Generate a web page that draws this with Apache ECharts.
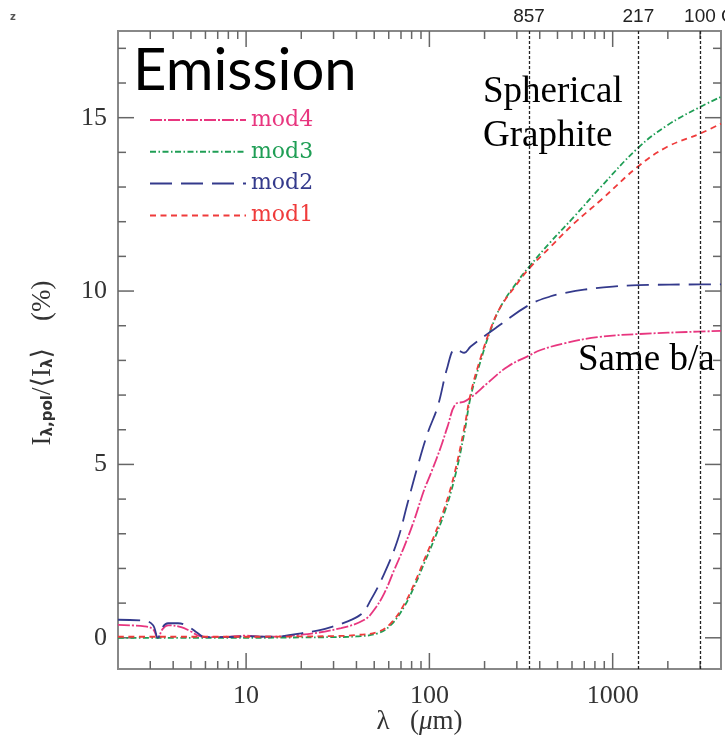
<!DOCTYPE html>
<html><head><meta charset="utf-8">
<script src="https://cdn.jsdelivr.net/npm/echarts@6/dist/echarts.min.js"></script>
<style>html,body{margin:0;padding:0;background:#fff}#c{width:725px;height:738px}</style>
</head><body><div id="c"></div>
<script>
// ---- data (wavelength in micron, polarisation fraction in %) ----
const mod4 = [[2,0.37],[2.79,0.33],[3.1,0.25],[3.3,0.0],[3.5,0.25],[3.75,0.36],[4.42,0.31],[5.0,0.18],[5.67,0.04],[7,0.02],[10,0.06],[12,0.03],[20,0.09],[33,0.28],[44.2,0.52],[50,0.81],[56.8,1.29],[64.3,1.96],[72.9,2.63],[82.7,3.4],[93.7,4.27],[102,4.75],[115.6,5.51],[125.6,6.09],[139,6.74],[155,6.81],[175,7.0],[207,7.34],[267,7.82],[350,8.14],[405,8.3],[543,8.49],[826,8.67],[1382,8.76],[2897,8.83],[3900,8.85]];
const mod3 = [[2,0.0],[10,0.0],[20,0.01],[30,0.02],[40,0.04],[52.3,0.13],[61.7,0.37],[72.9,0.9],[82.7,1.48],[93.7,2.15],[106,2.82],[120.5,3.59],[136.5,4.55],[155,5.9],[168,6.95],[191,8.01],[216,8.88],[245,9.55],[300,10.25],[350,10.7],[459,11.42],[615,12.14],[861,13.0],[1382,14.14],[1986,14.78],[3000,15.31],[3900,15.6]];
const mod2 = [[2,0.52],[2.74,0.5],[3.1,0.37],[3.3,0.0],[3.5,0.3],[3.75,0.42],[4.25,0.42],[4.81,0.33],[5.46,0.13],[5.93,0.02],[7,0.02],[9,0.03],[10,0.06],[11,0.04],[14,0.03],[20,0.13],[25.6,0.23],[30,0.33],[33,0.4],[42.4,0.68],[48,1.1],[56.8,1.86],[67.1,2.82],[76,3.88],[86.2,4.94],[97.8,5.9],[111,6.67],[125.6,7.82],[137.7,8.32],[145,8.28],[155,8.22],[168,8.4],[235,8.97],[350,9.6],[459,9.85],[543,9.94],[698,10.04],[1000,10.13],[1382,10.17],[3000,10.19],[3900,10.19]];
const mod1 = [[2,0.03],[10,0.03],[20,0.04],[30,0.05],[40,0.08],[52.3,0.17],[61.7,0.42],[72.9,0.97],[82.7,1.56],[93.7,2.25],[106,2.93],[120.5,3.72],[136.5,4.7],[155,6.05],[168,7.05],[191,8.1],[216,8.92],[245,9.55],[300,10.2],[350,10.65],[459,11.28],[615,11.95],[861,12.62],[1382,13.6],[1986,14.16],[3000,14.54],[3900,14.83]];
const seriesNames = ['mod4','mod3','mod2','mod1'];
const xTickVals = [3,4,5,6,7,8,9,10,20,30,40,50,60,70,80,90,100,200,300,400,500,600,700,800,900,1000,2000,3000];
const xLabelVals = [10,100,1000];
const yTickVals = [0,1,2,3,4,5,6,7,8,9,10,11,12,13,14,15,16,17];
const yLabelVals = [0,5,10,15];
const freqGHz = [857,217,100];
const freqLabels = ['857','217','100 GHz'];

const X_MIN = 2, X_MAX = 3900, Y_MIN = -0.9, Y_MAX = 17.5;
const colors = {mod4:'#e8367f', mod3:'#1f9e55', mod2:'#343a8c', mod1:'#ef3b3b'};
const dashes = {mod4:[12,2,2,2], mod3:[6,2.5,1.5,2.5], mod2:[22,9], mod1:[6,4.5]};
const dataMap = {mod4, mod3, mod2, mod1};

const serif = '"Liberation Serif","DejaVu Serif",serif';
const tickColor = '#666';

function xTicks(params, api){
  const v = api.value(0), cs = params.coordSys;
  const x = api.coord([v, 0])[0];
  const len = xLabelVals.includes(v) ? 16 : 8;
  const st = {stroke: tickColor, lineWidth: 1.5};
  return {type:'group', children:[
    {type:'line', shape:{x1:x, y1:cs.y+cs.height, x2:x, y2:cs.y+cs.height-len}, style:st},
    {type:'line', shape:{x1:x, y1:cs.y, x2:x, y2:cs.y+len}, style:st}
  ]};
}
function yTicks(params, api){
  const v = api.value(1), cs = params.coordSys;
  const y = api.coord([X_MIN, v])[1];
  const len = yLabelVals.includes(v) ? 16 : 8;
  const st = {stroke: tickColor, lineWidth: 1.5};
  return {type:'group', children:[
    {type:'line', shape:{x1:cs.x, y1:y, x2:cs.x+len, y2:y}, style:st},
    {type:'line', shape:{x1:cs.x+cs.width, y1:y, x2:cs.x+cs.width-len, y2:y}, style:st}
  ]};
}

const lineSeries = seriesNames.map((n, i) => {
  const s = {
    name: n, type: 'line', data: dataMap[n], symbol: 'none', showSymbol: false,
    smooth: 0.4, z: 3,
    lineStyle: {color: colors[n], width: 1.8, type: dashes[n]},
    itemStyle: {color: colors[n]}
  };
  if (n === 'mod1') {
    s.markLine = {
      silent: true, symbol: ['none','none'], animation: false,
      lineStyle: {color:'#222', width:1.3, type:[3,2]},
      label: {show:true, position:'end', distance:5, fontFamily:'"Liberation Sans",sans-serif', fontSize:19, color:'#222'},
      data: freqGHz.map((f, k) => {
        const item = {xAxis: 299792.458 / f, label: {formatter: freqLabels[k]}};
        if (freqLabels[k].length > 3) item.label.padding = [0,0,0,43];
        return item;
      })
    };
  }
  return s;
});

const chart = echarts.init(document.getElementById('c'), null, {renderer:'canvas'});
chart.setOption({
  animation: false,
  backgroundColor: '#fff',
  grid: {left:118, right:4, top:31, bottom:69, outerBoundsMode:'none', containLabel:false,
    show:true, borderColor:'#888', borderWidth:2, backgroundColor:'transparent'},
  legend: {
    orient:'vertical', left:149, top:109, padding:0, itemWidth:96, itemHeight:12, itemGap:9.8,
    selectedMode:false,
    itemStyle:{color:'rgba(0,0,0,0)', borderColor:'rgba(0,0,0,0)', borderWidth:0},
    textStyle:{fontFamily:'"DejaVu Serif",serif', fontSize:22, lineHeight:22},
    data: seriesNames.map(n => ({name:n, textStyle:{color:colors[n]}}))
  },
  xAxis: {
    type:'log', logBase:10, min:X_MIN, max:X_MAX,
    axisLine:{show:false}, axisTick:{show:false}, splitLine:{show:false}, minorTick:{show:false},
    axisLabel:{fontFamily:serif, fontSize:26, color:'#333', margin:14, showMinLabel:false, showMaxLabel:false,
      formatter: v => { const r = Math.round(v); return xLabelVals.includes(r) && Math.abs(r - v) < 1e-6 ? String(r) : ''; }},
    name:'{n|λ   (}{it|μ}{n|m)}', nameLocation:'middle', nameGap:39, nameMoveOverlap:false,
    nameTextStyle:{rich:{n:{fontFamily:serif, fontSize:27, color:'#333'}, it:{fontFamily:serif, fontSize:27, fontStyle:'italic', color:'#333'}}}
  },
  yAxis: {
    type:'value', min:Y_MIN, max:Y_MAX, splitNumber:4,
    axisLine:{show:false}, axisTick:{show:false}, splitLine:{show:false},
    axisLabel:{fontFamily:serif, fontSize:26, color:'#333', margin:11, showMinLabel:false, showMaxLabel:false,
      formatter: v => yLabelVals.includes(v) ? String(v) : ''},
    name:'{a|I}{s|λ,pol}{a|/⟨I}{s|λ}{a|⟩    (%)}{g| }', nameLocation:'middle', nameGap:62, nameRotate:90,
    nameTextStyle:{rich:{
      a:{fontFamily:serif, fontSize:27, color:'#333'},
      s:{fontFamily:'"DejaVu Sans",sans-serif', fontSize:15, fontWeight:'bold', color:'#333', padding:[12,0,0,0]},
      g:{width:26, fontSize:10}
    }}
  },
  series: [
    ...lineSeries,
    {type:'custom', renderItem:xTicks, data:xTickVals.map(v => [v, 0]), silent:true, z:1, clip:false},
    {type:'custom', renderItem:yTicks, data:yTickVals.map(v => [X_MIN, v]), silent:true, z:1, clip:false}
  ],
  graphic: [
    {type:'text', left:133, top:42, style:{text:'Emission', fontFamily:'Lato, "Open Sans", sans-serif', fontSize:58, fill:'#000'}},
    {type:'text', left:483, top:74, style:{text:'Spherical', fontFamily:serif, fontSize:37, fill:'#000'}},
    {type:'text', left:483, top:118, style:{text:'Graphite', fontFamily:serif, fontSize:37, fill:'#000'}},
    {type:'text', left:578, top:342, style:{text:'Same b/a', fontFamily:serif, fontSize:37, fill:'#000'}},
    {type:'text', left:10, top:12, style:{text:'z', fontFamily:'"DejaVu Sans",sans-serif', fontSize:10, fontWeight:'bold', fill:'#555'}}
  ]
});
</script></body></html>
